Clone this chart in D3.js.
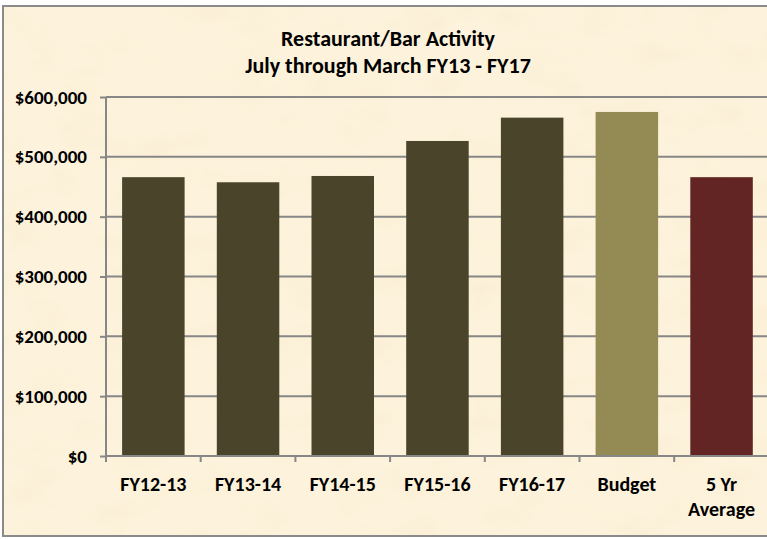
<!DOCTYPE html>
<html>
<head>
<meta charset="utf-8">
<script src="https://cdn.jsdelivr.net/npm/d3@7"></script>
<style>
  html, body { margin: 0; padding: 0; background: #ffffff; }
  svg { display: block; }
  text { font-family: Carlito, Calibri, "Liberation Sans", Arial, sans-serif; font-weight: bold; fill: #000; }
</style>
</head>
<body>
<svg id="chart" width="767" height="539"></svg>
<script>
// ---- data ----
const categories = ["FY12-13", "FY13-14", "FY14-15", "FY15-16", "FY16-17", "Budget", "5 Yr Average"];
const categoryLines = [["FY12-13"], ["FY13-14"], ["FY14-15"], ["FY15-16"], ["FY16-17"], ["Budget"], ["5 Yr", "Average"]];
const values = [466000, 457500, 468000, 526500, 565500, 575000, 466000];
const barColors = ["#4a452a", "#4a452a", "#4a452a", "#4a452a", "#4a452a", "#948a54", "#632523"];
const yTicks = [0, 100000, 200000, 300000, 400000, 500000, 600000];
const titleLines = ["Restaurant/Bar Activity", "July through March FY13 - FY17"];

const svg = d3.select("#chart");
const W = 767, H = 539;

// background texture (parchment)
const defs = svg.append("defs");
const f = defs.append("filter").attr("id", "parch").attr("x", 0).attr("y", 0).attr("width", "100%").attr("height", "100%");
f.append("feTurbulence").attr("type", "fractalNoise").attr("baseFrequency", "0.018 0.03").attr("numOctaves", 3).attr("seed", 7).attr("result", "n");
f.append("feColorMatrix").attr("in", "n").attr("type", "matrix")
  .attr("values", "0 0 0 0 0.80  0 0 0 0 0.68  0 0 0 0 0.45  0 0 0 -0.9 0.5");
f.append("feComposite").attr("operator", "in").attr("in2", "SourceGraphic");

const frame = {x: 3, y: 6, w: 775, h: 530};
svg.append("rect").attr("x", frame.x).attr("y", frame.y).attr("width", frame.w).attr("height", frame.h).attr("fill", "#fdf2db");
svg.append("rect").attr("x", frame.x).attr("y", frame.y).attr("width", frame.w).attr("height", frame.h).attr("fill", "#fff").attr("filter", "url(#parch)").attr("opacity", 0.3);
svg.append("rect").attr("x", frame.x).attr("y", frame.y).attr("width", frame.w).attr("height", frame.h)
  .attr("fill", "none").attr("stroke", "#8a8a8a").attr("stroke-width", 2);

// scales
const x0 = 106, x1 = 106 + 7 * 94.7;
const x = d3.scaleBand().domain(categories).range([x0, x1]).paddingInner(0.34).paddingOuter(0.17);
const y = d3.scaleLinear().domain([0, 600000]).range([456, 97]);

const gridColor = "#878787";
const axisFont = 19;

// gridlines
svg.append("g").selectAll("line").data(yTicks.filter(d => d > 0)).join("line")
  .attr("x1", x0).attr("x2", x1)
  .attr("y1", d => y(d)).attr("y2", d => y(d))
  .attr("stroke", gridColor).attr("stroke-width", 2);

// y axis
const yAxis = svg.append("g").attr("transform", `translate(${x0},0)`)
  .call(d3.axisLeft(y).tickValues(yTicks).tickSize(6).tickPadding(13)
    .tickFormat(d => "$" + d3.format(",")(d)));
yAxis.select(".domain").remove();
yAxis.selectAll(".tick line").attr("stroke", gridColor).attr("stroke-width", 2);
yAxis.selectAll(".tick text").attr("font-size", axisFont).style("font-family", "Carlito, Calibri, 'Liberation Sans', Arial, sans-serif").style("font-weight", "bold").attr("fill", "#000");
svg.append("line").attr("x1", x0).attr("x2", x0).attr("y1", y(600000)).attr("y2", 462)
  .attr("stroke", gridColor).attr("stroke-width", 2);

// bars
svg.append("g").selectAll("rect").data(values).join("rect")
  .attr("x", (d, i) => x(categories[i]))
  .attr("width", x.bandwidth())
  .attr("y", d => y(d))
  .attr("height", d => y(0) - y(d))
  .attr("fill", (d, i) => barColors[i]);

// x axis line and ticks
svg.append("line").attr("x1", x0).attr("x2", x1).attr("y1", y(0)).attr("y2", y(0))
  .attr("stroke", gridColor).attr("stroke-width", 2);
const boundaries = categories.map(c => x(c) - x.step() * x.paddingInner() / 2);
boundaries[0] = x0;
svg.append("g").selectAll("line").data(boundaries).join("line")
  .attr("x1", d => d).attr("x2", d => d).attr("y1", y(0)).attr("y2", y(0) + 6)
  .attr("stroke", gridColor).attr("stroke-width", 2);

// x labels
const xl = svg.append("g").selectAll("text").data(categoryLines).join("text")
  .attr("text-anchor", "middle")
  .attr("font-size", 20)
  .attr("x", (d, i) => x(categories[i]) + x.bandwidth() / 2)
  .attr("y", 491);
xl.selectAll("tspan").data(d => d).join("tspan")
  .attr("x", function() { return d3.select(this.parentNode).attr("x"); })
  .attr("dy", (d, i) => i === 0 ? 0 : 25)
  .text(d => d);

// title
svg.append("g").selectAll("text").data(titleLines).join("text")
  .attr("text-anchor", "middle").attr("font-size", 22)
  .attr("x", 388).attr("y", (d, i) => 45.5 + i * 27)
  .text(d => d);
</script>
</body>
</html>
